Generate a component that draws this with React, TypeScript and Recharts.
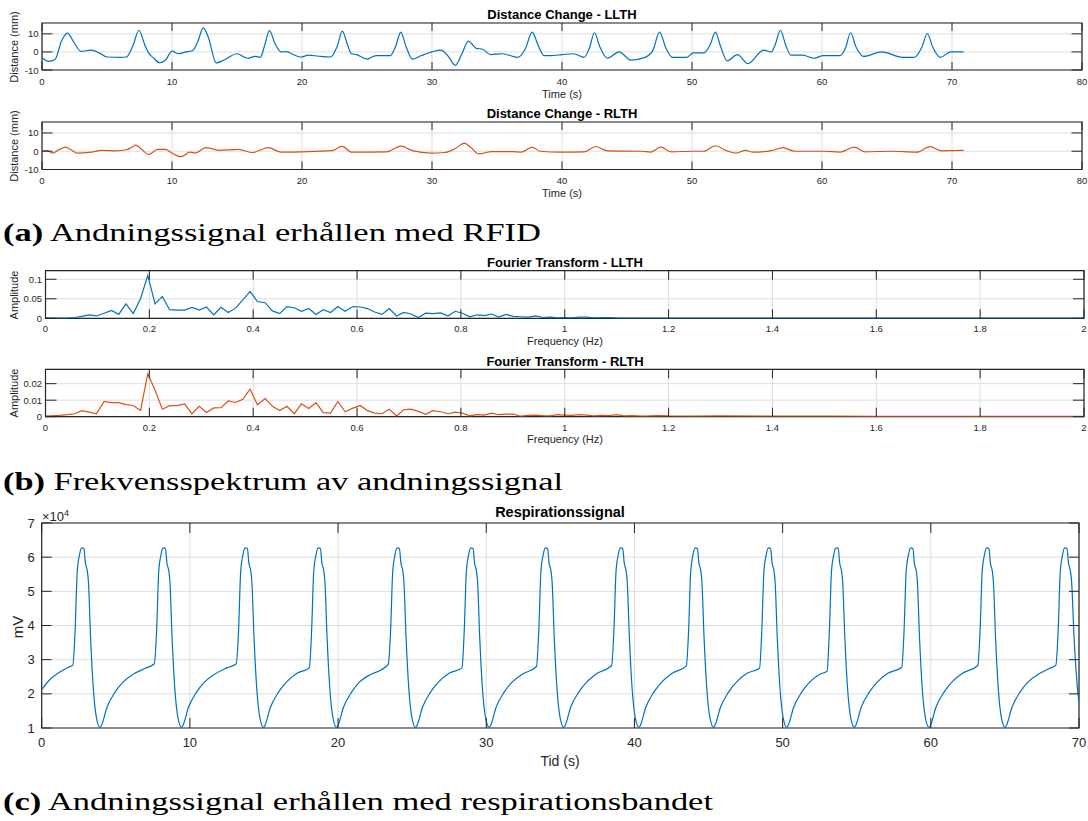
import React from 'react';
import { LineChart, Line, XAxis, YAxis, CartesianGrid, ReferenceArea } from 'recharts';

const FONT = '"Liberation Sans", Arial, Helvetica, sans-serif';
const SERIF = '"Liberation Serif", "DejaVu Serif", serif';
const AXIS = '#262626';
const GRID = '#dedede';
const BLUE = '#0072bd';
const ORANGE = '#d95319';
const W = 1088;
const AX = 20; // room given to each axis inside the svg

// tick values
const timeTicks = [0, 10, 20, 30, 40, 50, 60, 70, 80];
const distTicks = [-10, 0, 10];
const freqTicks = [0, 0.2, 0.4, 0.6, 0.8, 1, 1.2, 1.4, 1.6, 1.8, 2];
const ampTicksLlth = [0, 0.05, 0.1];
const ampTicksRlth = [0, 0.01, 0.02];
const respTimeTicks = [0, 10, 20, 30, 40, 50, 60, 70];
const respTicks = [1, 2, 3, 4, 5, 6, 7];

// distance change, [time s, mm]
const llthDist: [number, number][] = [
  [0, -3], [0.5, -5.2], [1.0, -4.2], [1.5, 6], [1.95, 10.4], [2.4, 6], [3.0, 0.3], [3.8, 1], [4.4, -0.5],
  [5.0, -2.8], [6.0, -3], [6.5, -2.8], [7.0, 3.5], [7.46, 12], [7.9, 4], [8.2, -0.5], [8.6, -3.5],
  [9.05, -6], [9.5, -4.5], [10.0, 0.4], [10.5, -1], [11.1, 0], [11.6, 0.8], [12.0, 6], [12.4, 13.3],
  [12.8, 8], [13.4, -6.1], [14.0, -4.5], [15.0, -1], [15.8, -3.5], [16.4, -2.5], [16.8, -3], [17.1, 3],
  [17.5, 11.8], [17.9, 5], [18.4, 0], [18.8, 0.2], [19.2, -1], [19.9, -2.8], [20.5, -1.8], [21.3, -2.4],
  [22.2, -2.8], [22.7, 3], [23.1, 11.5], [23.5, 4], [23.8, -1], [24.2, -1.5], [25.0, -4], [25.7, -2],
  [26.8, -2], [27.2, 3], [27.6, 11], [28.0, 3], [28.5, -4], [29.2, -2], [30.0, 0], [30.7, 1], [31.2, -2],
  [31.8, -7.4], [32.3, -1], [32.8, 6], [33.4, 2], [33.9, 1.5], [34.5, -1.5], [35.4, -1], [36.6, -3],
  [37.2, 2], [37.7, 10.9], [38.2, 3], [38.6, -2], [39.1, -2], [40.0, -1.5], [40.9, -1], [41.7, -3],
  [42.1, 2], [42.5, 10.6], [42.9, 3], [43.5, -3.5], [44.4, 0], [45.3, -4.5], [46.4, -3], [47.0, 1],
  [47.5, 11], [48.0, 2], [48.5, -3], [49.6, -3], [50.1, -0.5], [50.9, -0.5], [51.4, 4], [51.8, 11],
  [52.2, 3], [52.7, -5], [53.5, -1.5], [54.3, -6.5], [55.5, 1], [56.1, 0], [56.4, 4], [56.8, 12],
  [57.2, 4], [57.6, -1.8], [58.5, -1.8], [59.4, -3.5], [60.1, -2], [61.4, -2], [61.8, 2], [62.2, 10.6],
  [62.6, 3], [63.2, -2.5], [64.6, 0], [66.2, -3], [67.1, -3], [67.7, 3], [68.1, 10.2], [68.5, 3],
  [69.1, -3], [69.9, 0], [70.9, 0],
];

const rlthDist: [number, number][] = [
  [0, 0.2], [0.4, 0.3], [0.8, -1], [1.3, 0.8], [1.8, 2.3], [2.3, 0.5], [2.7, -1], [3.8, -0.5], [4.6, 0.5],
  [5.7, 0.2], [6.5, 0.8], [6.9, 2.2], [7.2, 3.3], [7.6, 1.5], [8.2, -1.8], [8.9, 1], [9.5, 1], [10.0, -1],
  [10.7, -3], [11.4, -0.5], [11.8, -1], [12.6, 2], [13.6, 0.5], [15.1, 1], [16.2, -0.7], [17.4, 2],
  [18.4, -0.5], [20.0, -0.3], [22.3, 0.3], [23.1, 2.7], [23.8, -0.5], [26.5, -0.3], [27.6, 2.8],
  [28.5, 0.3], [29.9, -1], [31.0, -0.7], [31.8, 1.5], [32.5, 4.4], [33.0, 2], [33.6, -1.5], [34.6, -0.2],
  [36.2, -0.2], [36.9, -0.5], [37.7, 2.3], [38.3, 0], [39.9, -0.5], [41.7, -0.3], [42.6, 2.6], [43.5, 0.2],
  [46.1, 0], [46.8, -0.5], [47.6, 2.2], [48.4, -0.3], [50.1, 0], [50.9, 0], [51.8, 3], [52.6, 0.5],
  [53.4, -1], [54.1, 0.5], [54.7, -0.5], [56.1, 0.3], [57.0, 2], [57.9, 0], [60.1, 0], [61.4, -0.5],
  [62.5, 2.3], [63.3, -0.3], [65.2, 0], [67.3, -0.5], [68.3, 2.5], [69.2, 0.2], [70.0, 0.3], [70.9, 0.5],
];

// spectrum, [frequency Hz, amplitude]
const llthSpec: [number, number][] = [
  [0, 0.001], [0.014, 0.0008], [0.028, 0.0008], [0.042, 0.001], [0.056, 0.002], [0.07, 0.005],
  [0.084, 0.009], [0.098, 0.006], [0.113, 0.013], [0.127, 0.02], [0.141, 0.01], [0.155, 0.037],
  [0.169, 0.012], [0.183, 0.05], [0.197, 0.11], [0.211, 0.037], [0.225, 0.056], [0.239, 0.022],
  [0.253, 0.021], [0.268, 0.021], [0.282, 0.028], [0.296, 0.021], [0.31, 0.029], [0.324, 0.009],
  [0.338, 0.028], [0.352, 0.015], [0.366, 0.026], [0.38, 0.047], [0.394, 0.069], [0.408, 0.043],
  [0.423, 0.04], [0.437, 0.019], [0.451, 0.012], [0.465, 0.03], [0.479, 0.027], [0.493, 0.018],
  [0.507, 0.025], [0.521, 0.01], [0.535, 0.022], [0.549, 0.015], [0.563, 0.03], [0.577, 0.018],
  [0.592, 0.03], [0.606, 0.029], [0.62, 0.025], [0.634, 0.016], [0.648, 0.01], [0.662, 0.025],
  [0.676, 0.006], [0.69, 0.015], [0.704, 0.011], [0.718, 0.002], [0.732, 0.013], [0.746, 0.012],
  [0.761, 0.014], [0.775, 0.006], [0.789, 0.018], [0.803, 0.013], [0.817, 0.004], [0.831, 0.009],
  [0.845, 0.007], [0.859, 0.011], [0.873, 0.003], [0.887, 0.01], [0.901, 0.005], [0.915, 0.004],
  [0.93, 0.003], [0.944, 0.006], [0.958, 0.002], [0.972, 0.003], [0.986, 0.001], [1.0, 0.002],
  [1.014, 0.001], [1.028, 0.003], [1.042, 0.003], [1.056, 0.001], [1.07, 0.002], [1.085, 0.002],
  [1.1, 0.001], [1.15, 0.0008], [1.2, 0.0005], [1.3, 0.0008], [1.4, 0.0004], [1.5, 0.0005],
  [1.6, 0.0003], [1.7, 0.0004], [1.8, 0.0003], [1.9, 0.0003], [2.0, 0.0002],
];

const rlthSpec: [number, number][] = [
  [0, 0.0005], [0.014, 0.0006], [0.028, 0.0008], [0.042, 0.0012], [0.056, 0.0018], [0.07, 0.0037],
  [0.084, 0.0028], [0.098, 0.0018], [0.113, 0.0093], [0.127, 0.0085], [0.141, 0.0085], [0.155, 0.0073],
  [0.169, 0.0068], [0.183, 0.0038], [0.197, 0.026], [0.211, 0.016], [0.225, 0.0045], [0.239, 0.0067],
  [0.253, 0.0067], [0.268, 0.0078], [0.282, 0.0018], [0.296, 0.0063], [0.31, 0.0025], [0.324, 0.0053],
  [0.338, 0.0055], [0.352, 0.0095], [0.366, 0.0086], [0.38, 0.0105], [0.394, 0.0167], [0.408, 0.0072],
  [0.423, 0.011], [0.437, 0.0063], [0.451, 0.0037], [0.465, 0.0063], [0.479, 0.0018], [0.493, 0.0078],
  [0.507, 0.005], [0.521, 0.0085], [0.535, 0.0025], [0.549, 0.0022], [0.563, 0.0092], [0.577, 0.003],
  [0.592, 0.0052], [0.606, 0.0068], [0.62, 0.0037], [0.634, 0.0022], [0.648, 0.0018], [0.662, 0.0045],
  [0.676, 0.0005], [0.69, 0.0042], [0.704, 0.0046], [0.718, 0.0032], [0.732, 0.0015], [0.746, 0.0037],
  [0.761, 0.003], [0.775, 0.0018], [0.789, 0.0028], [0.803, 0.0022], [0.817, 0.0005], [0.831, 0.0012],
  [0.845, 0.001], [0.859, 0.0022], [0.873, 0.0012], [0.887, 0.0015], [0.901, 0.0015], [0.915, 0.0003],
  [0.93, 0.0008], [0.944, 0.001], [0.958, 0.0007], [0.972, 0.0005], [0.986, 0.0012], [1.0, 0.001],
  [1.014, 0.0008], [1.028, 0.0012], [1.042, 0.0009], [1.056, 0.0005], [1.07, 0.0008], [1.085, 0.0007],
  [1.1, 0.0012], [1.114, 0.0005], [1.13, 0.0006], [1.15, 0.0004], [1.18, 0.0007], [1.2, 0.0005],
  [1.25, 0.0004], [1.3, 0.0005], [1.4, 0.0003], [1.5, 0.0003], [1.6, 0.0002], [1.8, 0.0002], [2.0, 0.0002],
];

// respiration belt, [time s, mV x 10^4]
const respSignal: [number, number][] = [
  [0, 2.12], [0.55, 2.42], [1.2, 2.63], [1.8, 2.78],
  [2.10, 2.84], [2.25, 3.8], [2.40, 5.6], [2.55, 6.07], [2.70, 6.27], [2.85, 6.25], [2.95, 5.83], [3.08, 5.59], [3.15, 5.3], [3.30, 3.63], [3.48, 2.17], [3.70, 1.29], [3.94, 1.02], [4.04, 1.08], [4.40, 1.6], [4.95, 2.05], [5.50, 2.35], [6.20, 2.58], [7.00, 2.75],
  [7.60, 2.88], [7.75, 3.8], [7.90, 5.6], [8.05, 6.07], [8.20, 6.27], [8.35, 6.25], [8.45, 5.83], [8.58, 5.59], [8.65, 5.3], [8.80, 3.63], [8.98, 2.17], [9.20, 1.29], [9.44, 1.02], [9.54, 1.08], [9.90, 1.6], [10.45, 2.05], [11.00, 2.35], [11.70, 2.58], [12.50, 2.76],
  [13.13, 2.88], [13.28, 3.8], [13.43, 5.6], [13.58, 6.07], [13.73, 6.27], [13.88, 6.25], [13.98, 5.83], [14.11, 5.59], [14.18, 5.3], [14.33, 3.63], [14.51, 2.17], [14.73, 1.29], [14.97, 1.02], [15.07, 1.08], [15.43, 1.6], [15.98, 2.05], [16.53, 2.35], [17.23, 2.6],
  [18.06, 2.76], [18.21, 3.8], [18.36, 5.6], [18.51, 6.07], [18.66, 6.27], [18.81, 6.25], [18.91, 5.83], [19.04, 5.59], [19.11, 5.3], [19.26, 3.63], [19.44, 2.17], [19.66, 1.29], [19.90, 1.02], [20.00, 1.08], [20.36, 1.6], [20.91, 2.05], [21.46, 2.35], [22.16, 2.56], [22.90, 2.7],
  [23.39, 2.87], [23.54, 3.8], [23.69, 5.6], [23.84, 6.07], [23.99, 6.27], [24.14, 6.25], [24.24, 5.83], [24.37, 5.59], [24.44, 5.3], [24.59, 3.63], [24.77, 2.17], [24.99, 1.29], [25.23, 1.02], [25.33, 1.08], [25.69, 1.6], [26.24, 2.05], [26.79, 2.35], [27.49, 2.6],
  [28.36, 2.76], [28.51, 3.8], [28.66, 5.6], [28.81, 6.07], [28.96, 6.27], [29.11, 6.25], [29.21, 5.83], [29.34, 5.59], [29.41, 5.3], [29.56, 3.63], [29.74, 2.17], [29.96, 1.29], [30.20, 1.02], [30.30, 1.08], [30.66, 1.6], [31.21, 2.05], [31.76, 2.35], [32.46, 2.58],
  [33.39, 2.8], [33.54, 3.8], [33.69, 5.6], [33.84, 6.07], [33.99, 6.27], [34.14, 6.25], [34.24, 5.83], [34.37, 5.59], [34.44, 5.3], [34.59, 3.63], [34.77, 2.17], [34.99, 1.29], [35.23, 1.02], [35.33, 1.08], [35.69, 1.6], [36.24, 2.05], [36.79, 2.35], [37.49, 2.6],
  [38.46, 2.83], [38.61, 3.8], [38.76, 5.6], [38.91, 6.07], [39.06, 6.27], [39.21, 6.25], [39.31, 5.83], [39.44, 5.59], [39.51, 5.3], [39.66, 3.63], [39.84, 2.17], [40.06, 1.29], [40.30, 1.02], [40.40, 1.08], [40.76, 1.6], [41.31, 2.05], [41.86, 2.35], [42.56, 2.6],
  [43.50, 2.82], [43.65, 3.8], [43.80, 5.6], [43.95, 6.07], [44.10, 6.27], [44.25, 6.25], [44.35, 5.83], [44.48, 5.59], [44.55, 5.3], [44.70, 3.63], [44.88, 2.17], [45.10, 1.29], [45.34, 1.02], [45.44, 1.08], [45.80, 1.6], [46.35, 2.05], [46.90, 2.35], [47.60, 2.6],
  [48.44, 2.75], [48.59, 3.8], [48.74, 5.6], [48.89, 6.07], [49.04, 6.27], [49.19, 6.25], [49.29, 5.83], [49.42, 5.59], [49.49, 5.3], [49.64, 3.63], [49.82, 2.17], [50.04, 1.29], [50.28, 1.02], [50.38, 1.08], [50.74, 1.6], [51.29, 2.05], [51.84, 2.35], [52.54, 2.58],
  [53.00, 2.66], [53.15, 3.8], [53.30, 5.6], [53.45, 6.07], [53.60, 6.27], [53.75, 6.25], [53.85, 5.83], [53.98, 5.59], [54.05, 5.3], [54.20, 3.63], [54.38, 2.17], [54.60, 1.29], [54.84, 1.02], [54.94, 1.08], [55.30, 1.6], [55.85, 2.05], [56.40, 2.35], [57.10, 2.6],
  [58.04, 2.78], [58.19, 3.8], [58.34, 5.6], [58.49, 6.07], [58.64, 6.27], [58.79, 6.25], [58.89, 5.83], [59.02, 5.59], [59.09, 5.3], [59.24, 3.63], [59.42, 2.17], [59.64, 1.29], [59.88, 1.02], [59.98, 1.08], [60.34, 1.6], [60.89, 2.05], [61.44, 2.35], [62.14, 2.6],
  [63.17, 2.83], [63.32, 3.8], [63.47, 5.6], [63.62, 6.07], [63.77, 6.27], [63.92, 6.25], [64.02, 5.83], [64.15, 5.59], [64.22, 5.3], [64.37, 3.63], [64.55, 2.17], [64.77, 1.29], [65.01, 1.02], [65.11, 1.08], [65.47, 1.6], [66.02, 2.05], [66.57, 2.35], [67.27, 2.58], [68.00, 2.74],
  [68.44, 2.84], [68.59, 3.8], [68.74, 5.6], [68.89, 6.07], [69.04, 6.27], [69.19, 6.25], [69.29, 5.83], [69.42, 5.59], [69.50, 5.3], [69.65, 3.8], [69.85, 2.4], [70.00, 1.74],
];

interface PanelCfg {
  top: number; height: number;
  left: number; right: number; plotTop: number; plotBottom: number;
  xDomain: [number, number]; xTicks: number[];
  yDomain: [number, number]; yTicks: number[];
  xTickLen: number; yTickLen: number;
  tickFont: number; xLabelDy: number; yLabelGap: number;
  color: string; curve: 'monotone' | 'linear';
}

function Panel({ cfg, data }: { cfg: PanelCfg; data: [number, number][] }) {
  const mt = cfg.plotTop - cfg.top;
  const pb = cfg.plotBottom - cfg.top;
  const rows = data.map(([x, y]) => ({ x, y }));

  const xTick = (p: any) => (
    <g>
      <line x1={p.x} x2={p.x} y1={pb} y2={pb - cfg.xTickLen} stroke={AXIS} />
      <line x1={p.x} x2={p.x} y1={mt} y2={mt + cfg.xTickLen} stroke={AXIS} />
      <text x={p.x} y={pb + cfg.xLabelDy} textAnchor="middle" dominantBaseline="central"
        fontSize={cfg.tickFont} fontFamily={FONT} fill={AXIS}>{String(p.payload.value)}</text>
    </g>
  );
  const yTick = (p: any) => (
    <g>
      <line x1={cfg.left} x2={cfg.left + cfg.yTickLen} y1={p.y} y2={p.y} stroke={AXIS} />
      <line x1={cfg.right} x2={cfg.right - cfg.yTickLen} y1={p.y} y2={p.y} stroke={AXIS} />
      <text x={cfg.left - cfg.yLabelGap} y={p.y} textAnchor="end" dominantBaseline="central"
        fontSize={cfg.tickFont} fontFamily={FONT} fill={AXIS}>{String(p.payload.value)}</text>
    </g>
  );

  return (
    <div style={{ position: 'absolute', left: 0, top: cfg.top, width: W, height: cfg.height }}>
      <LineChart width={W} height={cfg.height} data={rows}
        margin={{ top: mt, bottom: cfg.top + cfg.height - cfg.plotBottom - AX, left: cfg.left - AX, right: W - cfg.right }}>
        <CartesianGrid stroke={GRID} strokeWidth={1} />
        <XAxis type="number" dataKey="x" domain={cfg.xDomain} ticks={cfg.xTicks} interval={0} height={AX}
          tickLine={false} axisLine={false} tick={xTick} allowDataOverflow />
        <YAxis type="number" domain={cfg.yDomain} ticks={cfg.yTicks} interval={0} width={AX}
          tickLine={false} axisLine={false} tick={yTick} allowDataOverflow />
        <Line dataKey="y" type={cfg.curve} stroke={cfg.color} strokeWidth={1.2} dot={false} isAnimationActive={false} />
        <ReferenceArea x1={cfg.xDomain[0]} x2={cfg.xDomain[1]} y1={cfg.yDomain[0]} y2={cfg.yDomain[1]}
          fill="none" stroke={AXIS} strokeWidth={1.2} ifOverflow="visible" />
      </LineChart>
    </div>
  );
}

const Txt = ({ x, y, size, bold, rotate, anchor = 'middle', children }: any) => (
  <div style={{
    position: 'absolute', left: x, top: y, fontSize: size, fontFamily: FONT, lineHeight: 1,
    fontWeight: bold ? 'bold' : 'normal', color: bold ? '#000' : AXIS, whiteSpace: 'nowrap',
    transform: `translate(${anchor === 'start' ? '0' : '-50%'},-50%)${rotate ? ' rotate(-90deg)' : ''}`,
  }}>{children}</div>
);

const Caption = ({ baseline, tag, text, width }: any) => (
  <svg style={{ position: 'absolute', left: 0, top: baseline - 28 }} width={W} height={36}>
    <text x={3} y={28} fontFamily={SERIF} fontSize={25} fill="#000" textLength={width} lengthAdjust="spacingAndGlyphs">
      <tspan fontWeight="bold">{tag}</tspan>{' ' + text}
    </text>
  </svg>
);

const distBase = {
  left: 42, right: 1082, xDomain: [0, 80] as [number, number], xTicks: timeTicks,
  yDomain: [-10, 16] as [number, number], yTicks: distTicks, xTickLen: 8, yTickLen: 10.5,
  tickFont: 9.5, xLabelDy: 11, yLabelGap: 3.5, curve: 'monotone' as const, height: 100,
};
const specBase = {
  left: 45.5, right: 1084, xDomain: [0, 2] as [number, number], xTicks: freqTicks,
  xTickLen: 9, yTickLen: 11, tickFont: 9.5, xLabelDy: 10.5, yLabelGap: 3.5,
  curve: 'linear' as const, height: 100,
};

export default function App() {
  return (
    <div style={{ position: 'absolute', left: 0, top: 0, width: W, height: 821, background: '#fff', overflow: 'hidden' }}>
      <Panel cfg={{ ...distBase, top: 0, plotTop: 23, plotBottom: 70, color: BLUE }} data={llthDist} />
      <Txt x={562} y={13.5} size={13} bold>Distance Change - LLTH</Txt>
      <Txt x={562} y={94} size={11}>Time (s)</Txt>
      <Txt x={14} y={47} size={11} rotate>Distance (mm)</Txt>

      <Panel cfg={{ ...distBase, top: 100, plotTop: 122, plotBottom: 169.5, color: ORANGE }} data={rlthDist} />
      <Txt x={562} y={112.5} size={13} bold>Distance Change - RLTH</Txt>
      <Txt x={562} y={192.5} size={11}>Time (s)</Txt>
      <Txt x={14} y={146} size={11} rotate>Distance (mm)</Txt>

      <Caption baseline={241} tag="(a)" text="Andningssignal erhållen med RFID" width={538} />

      <Panel cfg={{ ...specBase, top: 250, plotTop: 270.7, plotBottom: 318.3, yDomain: [0, 0.122], yTicks: ampTicksLlth, color: BLUE }} data={llthSpec} />
      <Txt x={565} y={262} size={13} bold>Fourier Transform - LLTH</Txt>
      <Txt x={565} y={340.5} size={11}>Frequency (Hz)</Txt>
      <Txt x={14} y={295} size={11} rotate>Amplitude</Txt>

      <Panel cfg={{ ...specBase, top: 350, plotTop: 369.3, plotBottom: 416.7, yDomain: [0, 0.0287], yTicks: ampTicksRlth, color: ORANGE }} data={rlthSpec} />
      <Txt x={565} y={360.5} size={13} bold>Fourier Transform - RLTH</Txt>
      <Txt x={565} y={438.5} size={11}>Frequency (Hz)</Txt>
      <Txt x={14} y={393} size={11} rotate>Amplitude</Txt>

      <Caption baseline={490} tag="(b)" text="Frekvensspektrum av andningssignal" width={560} />

      <Panel cfg={{
        top: 500, height: 260, left: 41.7, right: 1079, plotTop: 523, plotBottom: 728,
        xDomain: [0, 70], xTicks: respTimeTicks, yDomain: [1, 7], yTicks: respTicks,
        xTickLen: 10, yTickLen: 10, tickFont: 13, xLabelDy: 14.5, yLabelGap: 7,
        color: BLUE, curve: 'monotone',
      }} data={respSignal} />
      <Txt x={560} y={512} size={14.5} bold>Respirationssignal</Txt>
      <Txt x={560} y={761} size={14} >Tid (s)</Txt>
      <Txt x={17} y={627} size={15} rotate>mV</Txt>
      <Txt x={42} y={516} size={13} anchor="start">×10<sup style={{ fontSize: 9 }}>4</sup></Txt>

      <Caption baseline={810} tag="(c)" text="Andningssignal erhållen med respirationsbandet" width={710} />
    </div>
  );
}
